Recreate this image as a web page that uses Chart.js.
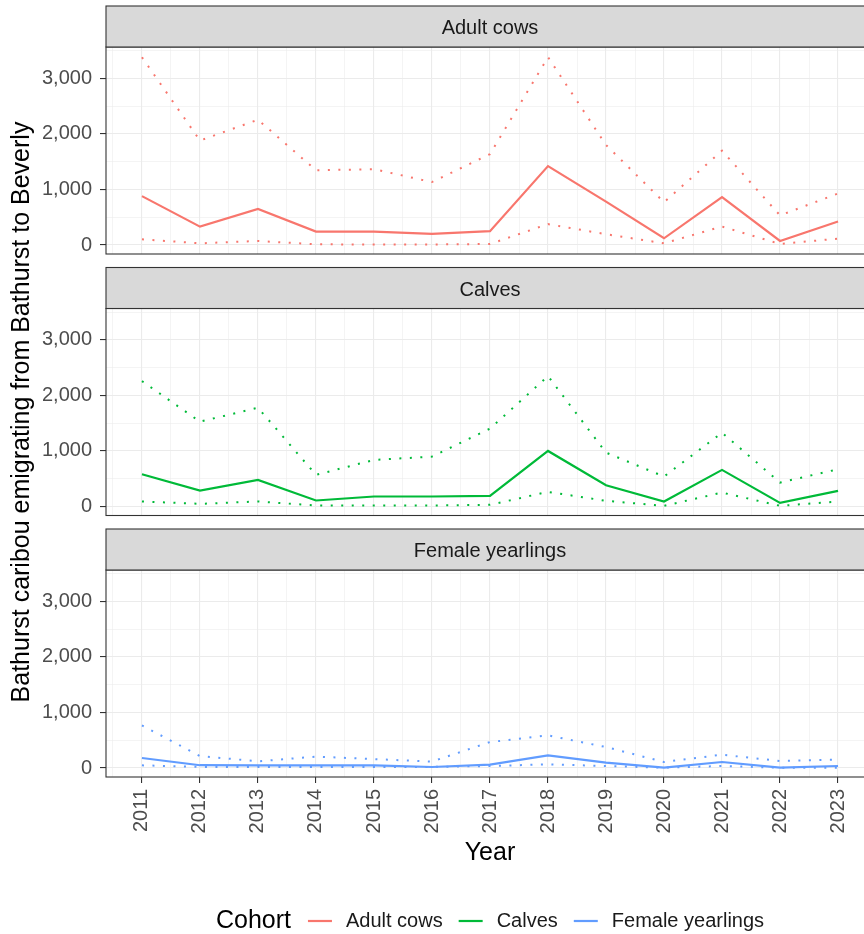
<!DOCTYPE html>
<html><head><meta charset="utf-8">
<script src="https://cdn.jsdelivr.net/npm/chart.js@4.4.1/dist/chart.umd.min.js"></script>
<style>
html,body{margin:0;padding:0;overflow:hidden;background:#fff;width:864px;height:934px;position:relative}
canvas{position:absolute;left:0;top:0}
</style></head><body>
<canvas id="c1" width="880" height="934"></canvas>
<canvas id="c2" width="880" height="934"></canvas>
<canvas id="c3" width="880" height="934"></canvas>
<script>
// ---- data ----
const years = [2011,2012,2013,2014,2015,2016,2017,2018,2019,2020,2021,2022,2023];
const cohorts = ['Adult cows','Calves','Female yearlings'];
const cohortColors = ['#F8766D','#00BA38','#619CFF'];

const adultEst = [880, 330, 650, 242, 242, 200, 250, 1420, 780, 121, 860, 73, 424];
const adultHi  = [3380, 1880, 2255, 1345, 1364, 1133, 1636, 3382, 1800, 770, 1697, 533, 927];
const adultLo  = [103, 30, 73, 12, 10, 10, 18, 376, 194, 30, 333, 18, 115];

const calvesEst = [581, 287, 479, 108, 180, 180, 192, 1000, 383, 90, 659, 66, 281];
const calvesHi  = [2257, 1527, 1778, 569, 838, 898, 1402, 2347, 970, 539, 1329, 431, 671];
const calvesLo  = [90, 48, 90, 18, 18, 18, 30, 263, 102, 12, 251, 12, 90];

const yearlingEst = [180, 50, 48, 48, 48, 18, 60, 228, 96, 6, 108, 6, 36];
const yearlingHi  = [766, 215, 120, 205, 160, 116, 467, 587, 377, 108, 240, 126, 150];
const yearlingLo  = [48, 20, 20, 20, 20, 20, 36, 66, 36, 6, 36, 6, 6];

// grid / tick positions
const yMajorTicks = [0, 1000, 2000, 3000];
const yMinorTicks = [500, 1500, 2500, 3500];
const xMinorTicks = [2010.5, 2011.5, 2012.5, 2013.5, 2014.5, 2015.5, 2016.5, 2017.5, 2018.5, 2019.5, 2020.5, 2021.5, 2022.5, 2023.5];

const xTitle = 'Year';
const yTitle = 'Bathurst caribou emigrating from Bathurst to Beverly';
const legendTitle = 'Cohort';

// ---- styling ----
const FONT = '"Liberation Sans", Arial, sans-serif';
Chart.defaults.font.family = FONT;
const GRID = '#EBEBEB';
const DARK = '#333333';

const pts = arr => years.map((yr, i) => ({x: yr, y: arr[i]}));
const sortedTicks = (a, b) => a.concat(b).sort((p, q) => p - q).map(v => ({value: v}));

function makeDatasets(ci, est, lo, hi) {
  const c = cohortColors[ci];
  return [
    {label: cohorts[ci] + ' upper', data: pts(hi), borderColor: c, borderWidth: 2, borderDash: [2, 8.5], pointRadius: 0, tension: 0, fill: false},
    {label: cohorts[ci] + ' lower', data: pts(lo), borderColor: c, borderWidth: 2, borderDash: [2, 8.5], pointRadius: 0, tension: 0, fill: false},
    {label: cohorts[ci], data: pts(est), borderColor: c, borderWidth: 2.2, pointRadius: 0, tension: 0, fill: false}
  ];
}

const panelPlugin = {
  id: 'panel',
  afterDraw(chart, args, opts) {
    const {ctx, chartArea: ca} = chart;
    ctx.save();
    ctx.strokeStyle = DARK;
    ctx.lineWidth = 1.1;
    ctx.strokeRect(ca.left, ca.top, ca.right - ca.left, ca.bottom - ca.top);
    const h = 41;
    ctx.fillStyle = '#D9D9D9';
    ctx.fillRect(ca.left, ca.top - h, ca.right - ca.left, h);
    ctx.strokeRect(ca.left, ca.top - h, ca.right - ca.left, h);
    ctx.fillStyle = '#1A1A1A';
    ctx.font = '20px ' + FONT;
    ctx.textAlign = 'center';
    ctx.textBaseline = 'middle';
    ctx.fillText(opts.label, (ca.left + ca.right) / 2, ca.top - h / 2 + 2);
    ctx.restore();
  }
};

const legendPlugin = {
  id: 'cohortLegend',
  afterDraw(chart) {
    const {ctx, chartArea: ca} = chart;
    const cy = 921;
    ctx.save();
    ctx.textBaseline = 'middle';
    ctx.textAlign = 'left';
    ctx.font = '25px ' + FONT;
    const tw = ctx.measureText(legendTitle).width;
    ctx.font = '20px ' + FONT;
    const iw = cohorts.map(c => ctx.measureText(c).width);
    const keyW = 24, keyGap = 14, itemGap = 16, titleGap = 17;
    let total = tw + titleGap;
    iw.forEach((w, i) => { total += keyW + keyGap + w + (i < iw.length - 1 ? itemGap : 0); });
    let x = (ca.left + ca.right) / 2 - total / 2;
    ctx.fillStyle = '#000';
    ctx.font = '25px ' + FONT;
    ctx.fillText(legendTitle, x, cy);
    x += tw + titleGap;
    ctx.font = '20px ' + FONT;
    cohorts.forEach((c, i) => {
      ctx.strokeStyle = cohortColors[i];
      ctx.lineWidth = 2.2;
      ctx.beginPath();
      ctx.moveTo(x, cy);
      ctx.lineTo(x + keyW, cy);
      ctx.stroke();
      x += keyW + keyGap;
      ctx.fillStyle = '#1A1A1A';
      ctx.fillText(c, x, cy);
      x += iw[i] + itemGap;
    });
    ctx.restore();
  }
};

function makeChart(id, ci, est, lo, hi, cfg) {
  const isBottom = !!cfg.bottom;
  return new Chart(document.getElementById(id), {
    type: 'line',
    data: {datasets: makeDatasets(ci, est, lo, hi)},
    plugins: isBottom ? [panelPlugin, legendPlugin] : [panelPlugin],
    options: {
      responsive: false,
      animation: false,
      layout: {padding: {left: 0, right: 6, top: cfg.top, bottom: cfg.padBottom}},
      plugins: {
        legend: {display: false},
        tooltip: {enabled: false},
        panel: {label: cohorts[ci]}
      },
      scales: {
        x: {
          type: 'linear',
          min: 2010.38, max: 2023.62,
          border: {display: false},
          afterBuildTicks: s => { s.ticks = sortedTicks(years, xMinorTicks); },
          grid: {
            color: GRID,
            lineWidth: c => (years.includes(c.tick.value) ? 1.1 : 0.55),
            drawTicks: isBottom,
            tickLength: 6,
            tickWidth: 1.1,
            tickColor: c => (years.includes(c.tick.value) ? DARK : 'rgba(0,0,0,0)')
          },
          ticks: {
            display: isBottom,
            autoSkip: false,
            minRotation: 90, maxRotation: 90,
            padding: 6,
            color: '#4D4D4D',
            font: {size: 20},
            callback: v => (years.includes(v) ? String(v) : '')
          },
          title: {
            display: isBottom, text: xTitle, color: '#000',
            font: {size: 25, lineHeight: 1}, padding: {top: 0, bottom: 11}
          },
          afterFit: s => { s.height = isBottom ? 100 : 0; s.paddingLeft = 0; s.paddingRight = 0; }
        },
        y: {
          min: -162, max: 3564,
          border: {display: false},
          afterBuildTicks: s => { s.ticks = sortedTicks(yMajorTicks, yMinorTicks); },
          grid: {
            color: GRID,
            lineWidth: c => (yMajorTicks.includes(c.tick.value) ? 1.1 : 0.55),
            drawTicks: true,
            tickLength: 6,
            tickWidth: 1.1,
            tickColor: c => (yMajorTicks.includes(c.tick.value) ? DARK : 'rgba(0,0,0,0)')
          },
          ticks: {
            autoSkip: false,
            padding: 8,
            color: '#4D4D4D',
            font: {size: 20},
            callback: v => (yMajorTicks.includes(v) ? v.toLocaleString('en-US') : '')
          },
          title: {
            display: !!cfg.yTitle, text: yTitle, color: '#000',
            font: {size: 25, lineHeight: 1}, padding: {top: 10, bottom: 0}
          },
          afterFit: s => { s.width = 106; s.paddingTop = 0; s.paddingBottom = 0; }
        }
      }
    }
  });
}

makeChart('c1', 0, adultEst, adultLo, adultHi, {top: 47, padBottom: 934 - 254});
makeChart('c2', 1, calvesEst, calvesLo, calvesHi, {top: 308.5, padBottom: 934 - 515.5, yTitle: true});
makeChart('c3', 2, yearlingEst, yearlingLo, yearlingHi, {top: 570, padBottom: 934 - 777 - 100, bottom: true});
</script>
</body></html>
